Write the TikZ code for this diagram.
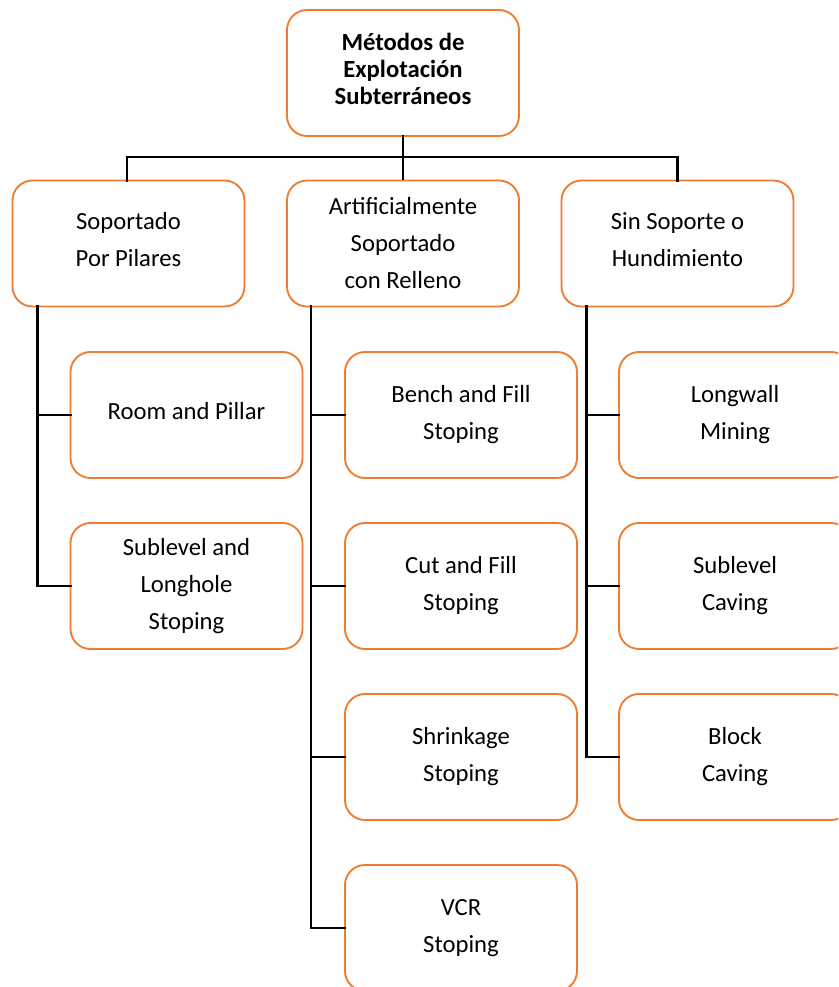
\documentclass[tikz,border=0pt]{standalone}
\usepackage{fontspec}
\setmainfont{Carlito}
\definecolor{boxorange}{HTML}{ED7D31}
\begin{document}
\begin{tikzpicture}[x=0.75pt,y=-0.75pt,
  box/.style={draw=boxorange,line width=1.4pt,fill=white,rounded corners=15pt,
    minimum width=174pt,minimum height=94.5pt,align=center,outer sep=0pt,inner sep=0pt,
    font=\fontsize{18.5}{27.75}\selectfont},
  titlebox/.style={box,font=\bfseries\fontsize{18.5}{20.3}\selectfont},
  conn/.style={line width=1.9pt,line cap=rect},
  thin/.style={line width=0.8pt}]
\useasboundingbox (0,0) rectangle (838,987);
\clip (0,0) rectangle (838,987);
% nodes
\node[titlebox] (top) at (403,73) {Métodos de\\Explotación\\Subterráneos\\[-14.3pt]};
\node[box] (L) at (128.5,243.5) {Soportado\\Por Pilares\\[-21.75pt]};
\node[box] (M) at (403,243.5) {Artificialmente\\Soportado\\con Relleno};
\node[box] (R) at (677.5,243.5) {Sin Soporte o\\Hundimiento\\[-21.75pt]};
\node[box] (a1) at (186.5,415) {Room and Pillar\\[-21.75pt]};
\node[box] (a2) at (186.5,586) {Sublevel and\\Longhole\\Stoping};
\node[box] (b1) at (461,415) {Bench and Fill\\Stoping};
\node[box] (b2) at (461,586) {Cut and Fill\\Stoping};
\node[box] (b3) at (461,757) {Shrinkage\\Stoping};
\node[box] (b4) at (461,928) {VCR\\Stoping};
\node[box] (c1) at (735,415) {Longwall\\Mining};
\node[box] (c2) at (735,586) {Sublevel\\Caving};
\node[box] (c3) at (735,757) {Block\\Caving};
% connectors
\coordinate (hub) at (403,157);
\draw[conn] (top.south) -- (hub);
\draw[conn] (L.north -| 127,0) |- (hub) -| (R.north);
\draw[thin] (hub) -- (M.north);
\draw[conn] ([xshift=25*0.75pt]L.south west) |- (a1.west);
\draw[conn] ([xshift=25*0.75pt]L.south west) |- (a2.west);
\draw[conn] ([xshift=24*0.75pt]M.south west) |- (b1.west);
\draw[conn] ([xshift=24*0.75pt]M.south west) |- (b2.west);
\draw[conn] ([xshift=24*0.75pt]M.south west) |- (b3.west);
\draw[conn] ([xshift=24*0.75pt]M.south west) |- (b4.west);
\draw[conn] ([xshift=25*0.75pt]R.south west) |- (c1.west);
\draw[conn] ([xshift=25*0.75pt]R.south west) |- (c2.west);
\draw[conn] ([xshift=25*0.75pt]R.south west) |- (c3.west);
\end{tikzpicture}
\end{document}
